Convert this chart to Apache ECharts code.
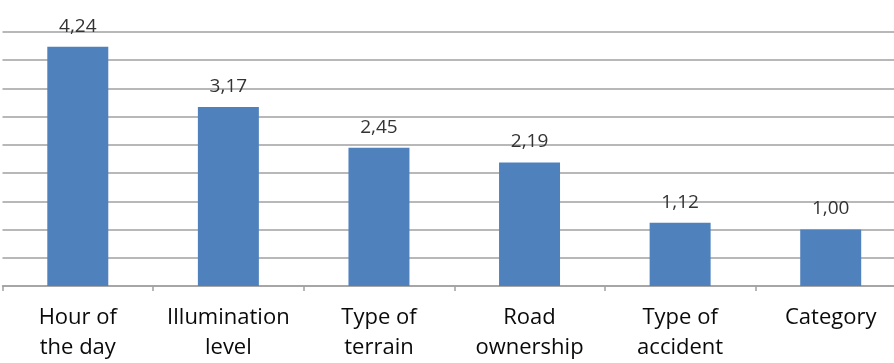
<!DOCTYPE html>
<html>
<head>
<meta charset="utf-8">
<script src="https://cdn.jsdelivr.net/npm/echarts@6/dist/echarts.min.js"></script>
<style>
  html, body { margin: 0; padding: 0; background: #fff; }
  #chart { width: 894px; height: 363px; }
</style>
</head>
<body>
<div id="chart"></div>
<script>
// Factor categories (two-line labels) and their values
const categories = [
  'Hour of\nthe day',
  'Illumination\nlevel',
  'Type of\nterrain',
  'Road\nownership',
  'Type of\naccident',
  'Category'
];
const values = [4.24, 3.17, 2.45, 2.19, 1.12, 1.00];

// Value axis range: gridlines every 0.5 from 0 to 4.5
const yMin = 0;
const yMax = 4.5;
const yStep = 0.5;

const chart = echarts.init(document.getElementById('chart'), null, { renderer: 'canvas' });

const gridColor = '#a0a0a0';

chart.setOption({
  animation: false,
  backgroundColor: '#ffffff',
  // plot area runs slightly past the right edge of the canvas
  grid: {
    left: 2.5, width: 903.5, top: 32, height: 254,
    containLabel: false,
    outerBoundsMode: 'none'
  },
  xAxis: {
    type: 'category',
    data: categories,
    boundaryGap: true,
    axisLine: { show: true, lineStyle: { color: gridColor, width: 1.5 } },
    axisTick: { show: true, length: 5, lineStyle: { color: gridColor, width: 1.5 } },
    axisLabel: {
      margin: 17,
      interval: 0,
      color: '#0a0a0a',
      fontFamily: 'Open Sans',
      fontSize: 22,
      lineHeight: 30
    }
  },
  yAxis: {
    type: 'value',
    min: yMin,
    max: yMax,
    interval: yStep,
    axisLine: { show: false },
    axisTick: { show: false },
    axisLabel: { show: false },
    splitLine: { show: true, lineStyle: { color: gridColor, width: 1.5 } }
  },
  series: [{
    type: 'bar',
    data: values,
    barWidth: '40.5%',
    itemStyle: { color: '#4f81bd' },
    label: {
      show: true,
      position: 'top',
      distance: 11,
      color: '#333333',
      fontFamily: 'Open Sans',
      fontSize: 19,
      formatter: p => p.value.toFixed(2).replace('.', ',')
    }
  }]
});
</script>
</body>
</html>
